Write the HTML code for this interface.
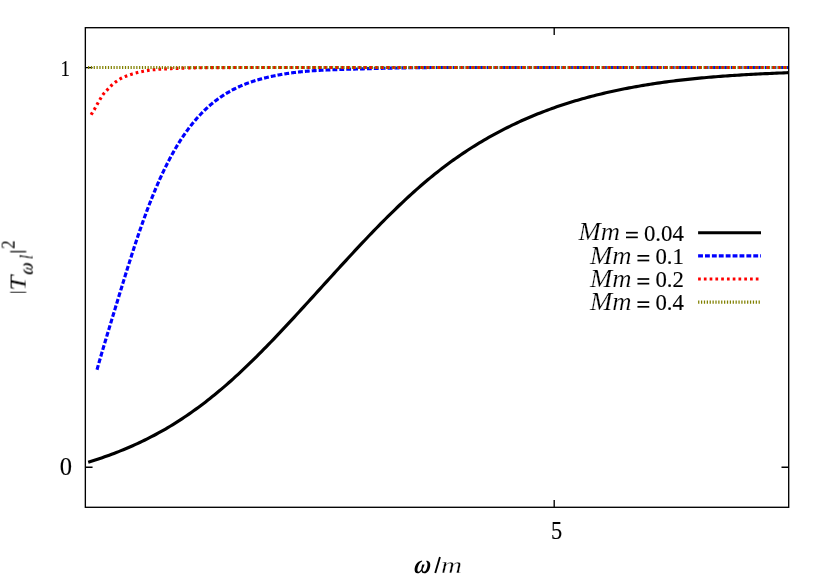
<!DOCTYPE html>
<html><head><meta charset="utf-8"><title>plot</title>
<style>html,body{margin:0;padding:0;background:#fff;}body{width:830px;height:581px;overflow:hidden;font-family:"Liberation Serif",serif;}svg{display:block;}</style>
</head><body>
<svg width="830" height="581" viewBox="0 0 830 581">
<rect x="0" y="0" width="830" height="581" fill="#fff"/>
<path d="M85.35,67.6 h7.2 M788.7,67.6 h-7.2 M85.35,467.2 h7.2 M788.7,467.2 h-7.2 M554.2,507.3 v-7.2 M554.2,27.7 v7.2" stroke="#000" stroke-width="1.35" fill="none"/>
<g fill="none" stroke-linejoin="round" stroke-width="3.15">
<path d="M88.20,462.31 L90.54,461.57 L92.88,460.82 L95.23,460.06 L97.57,459.28 L99.91,458.49 L102.25,457.68 L104.59,456.86 L106.94,456.02 L109.28,455.17 L111.62,454.30 L113.96,453.42 L116.31,452.51 L118.65,451.60 L120.99,450.66 L123.33,449.71 L125.67,448.73 L128.02,447.74 L130.36,446.73 L132.70,445.70 L135.04,444.65 L137.38,443.58 L139.73,442.49 L142.07,441.38 L144.41,440.25 L146.75,439.09 L149.10,437.91 L151.44,436.71 L153.78,435.49 L156.12,434.24 L158.46,432.97 L160.81,431.67 L163.15,430.35 L165.49,429.01 L167.83,427.64 L170.17,426.24 L172.52,424.82 L174.86,423.37 L177.20,421.89 L179.54,420.39 L181.89,418.86 L184.23,417.30 L186.57,415.72 L188.91,414.11 L191.25,412.48 L193.60,410.82 L195.94,409.13 L198.28,407.42 L200.62,405.68 L202.96,403.92 L205.31,402.13 L207.65,400.31 L209.99,398.47 L212.33,396.60 L214.68,394.70 L217.02,392.78 L219.36,390.83 L221.70,388.86 L224.04,386.86 L226.39,384.83 L228.73,382.78 L231.07,380.70 L233.41,378.59 L235.75,376.46 L238.10,374.31 L240.44,372.13 L242.78,369.93 L245.12,367.71 L247.47,365.46 L249.81,363.20 L252.15,360.91 L254.49,358.61 L256.83,356.28 L259.18,353.94 L261.52,351.58 L263.86,349.21 L266.20,346.81 L268.54,344.40 L270.89,341.98 L273.23,339.54 L275.57,337.09 L277.91,334.63 L280.26,332.15 L282.60,329.67 L284.94,327.17 L287.28,324.66 L289.62,322.14 L291.97,319.62 L294.31,317.08 L296.65,314.54 L298.99,311.99 L301.33,309.43 L303.68,306.87 L306.02,304.31 L308.36,301.74 L310.70,299.16 L313.05,296.59 L315.39,294.01 L317.73,291.43 L320.07,288.84 L322.41,286.26 L324.76,283.68 L327.10,281.10 L329.44,278.52 L331.78,275.94 L334.12,273.37 L336.47,270.79 L338.81,268.23 L341.15,265.67 L343.49,263.11 L345.84,260.56 L348.18,258.02 L350.52,255.48 L352.86,252.95 L355.20,250.43 L357.55,247.92 L359.89,245.42 L362.23,242.93 L364.57,240.46 L366.91,237.99 L369.26,235.53 L371.60,233.09 L373.94,230.66 L376.28,228.25 L378.63,225.85 L380.97,223.46 L383.31,221.10 L385.65,218.74 L387.99,216.41 L390.34,214.09 L392.68,211.79 L395.02,209.51 L397.36,207.25 L399.70,205.01 L402.05,202.78 L404.39,200.58 L406.73,198.40 L409.07,196.24 L411.42,194.11 L413.76,191.99 L416.10,189.90 L418.44,187.83 L420.78,185.79 L423.13,183.77 L425.47,181.78 L427.81,179.81 L430.15,177.87 L432.49,175.96 L434.84,174.07 L437.18,172.21 L439.52,170.37 L441.86,168.57 L444.21,166.78 L446.55,165.02 L448.89,163.29 L451.23,161.58 L453.57,159.90 L455.92,158.24 L458.26,156.60 L460.60,154.99 L462.94,153.40 L465.28,151.84 L467.63,150.30 L469.97,148.78 L472.31,147.29 L474.65,145.81 L477.00,144.37 L479.34,142.94 L481.68,141.53 L484.02,140.15 L486.36,138.79 L488.71,137.45 L491.05,136.13 L493.39,134.83 L495.73,133.55 L498.07,132.29 L500.42,131.06 L502.76,129.84 L505.10,128.64 L507.44,127.47 L509.79,126.31 L512.13,125.17 L514.47,124.05 L516.81,122.95 L519.15,121.86 L521.50,120.80 L523.84,119.75 L526.18,118.72 L528.52,117.71 L530.86,116.72 L533.21,115.74 L535.55,114.78 L537.89,113.83 L540.23,112.91 L542.58,112.00 L544.92,111.10 L547.26,110.22 L549.60,109.36 L551.94,108.51 L554.29,107.68 L556.63,106.86 L558.97,106.06 L561.31,105.27 L563.65,104.50 L566.00,103.74 L568.34,103.00 L570.68,102.26 L573.02,101.55 L575.37,100.84 L577.71,100.15 L580.05,99.47 L582.39,98.81 L584.73,98.16 L587.08,97.52 L589.42,96.89 L591.76,96.27 L594.10,95.67 L596.44,95.07 L598.79,94.49 L601.13,93.92 L603.47,93.36 L605.81,92.82 L608.16,92.28 L610.50,91.75 L612.84,91.23 L615.18,90.73 L617.52,90.23 L619.87,89.74 L622.21,89.26 L624.55,88.80 L626.89,88.34 L629.23,87.89 L631.58,87.45 L633.92,87.02 L636.26,86.59 L638.60,86.18 L640.95,85.78 L643.29,85.38 L645.63,84.99 L647.97,84.61 L650.31,84.24 L652.66,83.88 L655.00,83.52 L657.34,83.18 L659.68,82.84 L662.02,82.51 L664.37,82.18 L666.71,81.87 L669.05,81.56 L671.39,81.26 L673.74,80.96 L676.08,80.67 L678.42,80.39 L680.76,80.12 L683.10,79.85 L685.45,79.59 L687.79,79.33 L690.13,79.08 L692.47,78.84 L694.81,78.60 L697.16,78.37 L699.50,78.15 L701.84,77.93 L704.18,77.71 L706.53,77.51 L708.87,77.30 L711.21,77.10 L713.55,76.91 L715.89,76.72 L718.24,76.54 L720.58,76.36 L722.92,76.18 L725.26,76.01 L727.60,75.85 L729.95,75.69 L732.29,75.53 L734.63,75.38 L736.97,75.23 L739.32,75.08 L741.66,74.94 L744.00,74.80 L746.34,74.67 L748.68,74.53 L751.03,74.40 L753.37,74.28 L755.71,74.15 L758.05,74.03 L760.39,73.92 L762.74,73.80 L765.08,73.69 L767.42,73.58 L769.76,73.47 L772.11,73.36 L774.45,73.26 L776.79,73.16 L779.13,73.05 L781.47,72.95 L783.82,72.86 L786.16,72.76 L788.50,72.66" stroke="#000"/>
<path d="M97.00,369.74 L97.47,368.07 L97.93,366.42 L98.40,364.77 L98.87,363.12 L99.33,361.49 L99.80,359.86 L100.27,358.24 L100.74,356.62 L101.20,355.01 L101.67,353.41 L102.14,351.81 L102.60,350.22 L103.07,348.63 L103.54,347.05 L104.00,345.47 L104.47,343.90 L104.94,342.33 L105.40,340.76 L105.87,339.20 L106.34,337.64 L106.81,336.08 L107.27,334.53 L107.74,332.98 L108.21,331.43 L108.67,329.88 L109.14,328.34 L109.61,326.79 L110.07,325.25 L110.54,323.71 L111.01,322.17 L111.47,320.63 L111.94,319.09 L112.41,317.56 L112.88,316.02 L113.34,314.48 L113.81,312.94 L114.28,311.41 L114.74,309.87 L115.21,308.34 L115.68,306.80 L116.14,305.27 L116.61,303.73 L117.08,302.20 L117.55,300.67 L118.01,299.14 L118.48,297.61 L118.95,296.08 L119.41,294.55 L119.88,293.03 L120.35,291.50 L120.81,289.98 L121.28,288.46 L121.75,286.94 L122.21,285.42 L122.68,283.90 L123.15,282.39 L123.62,280.87 L124.08,279.36 L124.55,277.85 L125.02,276.34 L125.48,274.83 L125.95,273.33 L126.42,271.82 L126.88,270.32 L127.35,268.83 L127.82,267.33 L128.28,265.84 L128.75,264.35 L129.22,262.86 L129.69,261.38 L130.15,259.91 L130.62,258.43 L131.09,256.96 L131.55,255.50 L132.02,254.04 L132.49,252.59 L132.95,251.14 L133.42,249.69 L133.89,248.26 L134.35,246.82 L134.82,245.40 L135.29,243.98 L135.76,242.56 L136.22,241.16 L136.69,239.76 L137.16,238.36 L137.62,236.97 L138.09,235.59 L138.56,234.22 L139.02,232.85 L139.49,231.48 L139.96,230.13 L140.42,228.78 L140.89,227.44 L141.36,226.10 L141.83,224.78 L142.29,223.45 L142.76,222.14 L143.23,220.83 L143.69,219.53 L144.16,218.24 L144.63,216.96 L145.09,215.68 L145.56,214.41 L146.03,213.14 L146.49,211.89 L146.96,210.64 L147.43,209.40 L147.90,208.16 L148.36,206.94 L148.83,205.72 L149.30,204.50 L149.76,203.30 L150.23,202.10 L150.70,200.91 L151.16,199.73 L151.63,198.55 L152.10,197.38 L152.57,196.22 L153.03,195.07 L153.50,193.92 L153.97,192.79 L154.43,191.66 L154.90,190.53 L155.37,189.42 L155.83,188.31 L156.30,187.21 L156.77,186.12 L157.23,185.03 L157.70,183.95 L158.17,182.88 L158.64,181.82 L159.10,180.77 L159.57,179.72 L160.04,178.68 L160.50,177.65 L160.97,176.63 L161.44,175.61 L161.90,174.60 L162.37,173.60 L162.84,172.61 L163.30,171.62 L163.77,170.64 L164.24,169.67 L164.71,168.71 L165.17,167.75 L165.64,166.81 L166.11,165.86 L166.57,164.93 L167.04,164.00 L167.51,163.09 L167.97,162.17 L168.44,161.27 L168.91,160.37 L169.37,159.48 L169.84,158.60 L170.31,157.72 L170.78,156.85 L171.24,155.99 L171.71,155.14 L172.18,154.29 L172.64,153.45 L173.11,152.61 L173.58,151.78 L174.04,150.96 L174.51,150.15 L174.98,149.34 L175.44,148.54 L175.91,147.75 L176.38,146.96 L176.85,146.18 L177.31,145.40 L177.78,144.64 L178.25,143.87 L178.71,143.12 L179.18,142.37 L179.65,141.63 L180.11,140.89 L180.58,140.16 L181.05,139.44 L181.52,138.72 L181.98,138.01 L182.45,137.30 L182.92,136.61 L183.38,135.91 L183.85,135.23 L184.32,134.54 L184.78,133.87 L185.25,133.20 L185.72,132.54 L186.18,131.88 L186.65,131.23 L187.12,130.58 L187.59,129.94 L188.05,129.31 L188.52,128.68 L188.99,128.06 L189.45,127.44 L189.92,126.83 L190.39,126.22 L190.85,125.62 L191.32,125.03 L191.79,124.44 L192.25,123.85 L192.72,123.27 L193.19,122.70 L193.66,122.13 L194.12,121.57 L194.59,121.01 L195.06,120.46 L195.52,119.91 L195.99,119.37 L196.46,118.83 L196.92,118.30 L197.39,117.77 L197.86,117.25 L198.32,116.73 L198.79,116.22 L199.26,115.71 L199.73,115.21 L200.19,114.71 L200.66,114.22 L201.13,113.73 L201.59,113.25 L202.06,112.77 L202.53,112.29 L202.99,111.83 L203.46,111.36 L203.93,110.90 L204.39,110.44 L204.86,109.99 L205.33,109.54 L205.80,109.10 L206.26,108.66 L206.73,108.23 L207.20,107.80 L207.66,107.37 L208.13,106.95 L208.60,106.53 L209.06,106.12 L209.53,105.71 L210.00,105.31 L210.46,104.91 L210.93,104.51 L211.40,104.12 L211.87,103.73 L212.33,103.34 L212.80,102.96 L213.27,102.58 L213.73,102.21 L214.20,101.84 L214.67,101.47 L215.13,101.11 L215.60,100.75 L216.07,100.39 L216.54,100.04 L217.00,99.69 L217.47,99.35 L217.94,99.01 L218.40,98.67 L218.87,98.34 L219.34,98.01 L219.80,97.68 L220.27,97.35 L220.74,97.03 L221.20,96.71 L221.67,96.40 L222.14,96.09 L222.61,95.78 L223.07,95.47 L223.54,95.17 L224.01,94.87 L224.47,94.58 L224.94,94.28 L225.41,93.99 L225.87,93.70 L226.34,93.42 L226.81,93.14 L227.27,92.86 L227.74,92.58 L228.21,92.31 L228.68,92.04 L229.14,91.77 L229.61,91.51 L230.08,91.25 L230.54,90.99 L231.01,90.73 L231.48,90.48 L231.94,90.23 L232.41,89.98 L232.88,89.73 L233.34,89.49 L233.81,89.25 L234.28,89.01 L234.75,88.77 L235.21,88.54 L235.68,88.31 L236.15,88.08 L236.61,87.86 L237.08,87.63 L237.55,87.41 L238.01,87.19 L238.48,86.98 L238.95,86.76 L239.41,86.55 L239.88,86.34 L240.35,86.14 L240.82,85.93 L241.28,85.73 L241.75,85.53 L242.22,85.33 L242.68,85.14 L243.15,84.94 L243.62,84.75 L244.08,84.56 L244.55,84.38 L245.02,84.19 L245.48,84.01 L245.95,83.83 L246.42,83.65 L246.89,83.47 L247.35,83.30 L247.82,83.12 L248.29,82.95 L248.75,82.78 L249.22,82.62 L249.69,82.45 L250.15,82.29 L250.62,82.13 L251.09,81.97 L251.56,81.81 L252.02,81.65 L252.49,81.50 L252.96,81.34 L253.42,81.19 L253.89,81.04 L254.36,80.89 L254.82,80.75 L255.29,80.60 L255.76,80.46 L256.22,80.32 L256.69,80.18 L257.16,80.04 L257.63,79.90 L258.09,79.77 L258.56,79.63 L259.03,79.50 L259.49,79.37 L259.96,79.24 L260.43,79.11 L260.89,78.98 L261.36,78.86 L261.83,78.73 L262.29,78.61 L262.76,78.49 L263.23,78.36 L263.70,78.24 L264.16,78.13 L264.63,78.01 L265.10,77.89 L265.56,77.78 L266.03,77.66 L266.50,77.55 L266.96,77.44 L267.43,77.33 L267.90,77.22 L268.36,77.11 L268.83,77.00 L269.30,76.90 L269.77,76.79 L270.23,76.69 L270.70,76.58 L271.17,76.48 L271.63,76.38 L272.10,76.28 L272.57,76.18 L273.03,76.08 L273.50,75.98 L273.97,75.89 L274.43,75.79 L274.90,75.70 L275.37,75.60 L275.84,75.51 L276.30,75.42 L276.77,75.33 L277.24,75.24 L277.70,75.15 L278.17,75.06 L278.64,74.97 L279.10,74.88 L279.57,74.80 L280.04,74.71 L280.51,74.63 L280.97,74.55 L281.44,74.47 L281.91,74.38 L282.37,74.30 L282.84,74.23 L283.31,74.15 L283.77,74.07 L284.24,73.99 L284.71,73.92 L285.17,73.84 L285.64,73.77 L286.11,73.69 L286.58,73.62 L287.04,73.55 L287.51,73.48 L287.98,73.41 L288.44,73.34 L288.91,73.27 L289.38,73.20 L289.84,73.14 L290.31,73.07 L290.78,73.00 L291.24,72.94 L291.71,72.87 L292.18,72.81 L292.65,72.75 L293.11,72.68 L293.58,72.62 L294.05,72.56 L294.51,72.50 L294.98,72.44 L295.45,72.39 L295.91,72.33 L296.38,72.27 L296.85,72.22 L297.31,72.16 L297.78,72.11 L298.25,72.06 L298.72,72.01 L299.18,71.96 L299.65,71.91 L300.12,71.86 L300.58,71.81 L301.05,71.76 L301.52,71.71 L301.98,71.67 L302.45,71.62 L302.92,71.58 L303.38,71.53 L303.85,71.49 L304.32,71.45 L304.79,71.40 L305.25,71.36 L305.72,71.32 L306.19,71.28 L306.65,71.24 L307.12,71.20 L307.59,71.16 L308.05,71.12 L308.52,71.08 L308.99,71.04 L309.45,71.00 L309.92,70.96 L310.39,70.93 L310.86,70.89 L311.32,70.85 L311.79,70.82 L312.26,70.78 L312.72,70.75 L313.19,70.72 L313.66,70.68 L314.12,70.65 L314.59,70.62 L315.06,70.59 L315.53,70.56 L315.99,70.54 L316.46,70.51 L316.93,70.48 L317.39,70.46 L317.86,70.43 L318.33,70.41 L318.79,70.39 L319.26,70.36 L319.73,70.34 L320.19,70.32 L320.66,70.30 L321.13,70.28 L321.60,70.25 L322.06,70.23 L322.53,70.21 L323.00,70.19 L323.46,70.17 L323.93,70.15 L324.40,70.13 L324.86,70.11 L325.33,70.09 L325.80,70.06 L326.26,70.04 L326.73,70.02 L327.20,70.00 L327.67,69.98 L328.13,69.96 L328.60,69.94 L329.07,69.92 L329.53,69.90 L330.00,69.88 L331.00,69.84 L333.30,69.75 L335.60,69.66 L337.90,69.57 L340.20,69.49 L342.49,69.42 L344.79,69.34 L347.09,69.27 L349.39,69.20 L351.69,69.14 L353.99,69.07 L356.29,69.01 L358.59,68.94 L360.89,68.87 L363.19,68.81 L365.48,68.74 L367.78,68.67 L370.08,68.61 L372.38,68.55 L374.68,68.48 L376.98,68.42 L379.28,68.37 L381.58,68.31 L383.88,68.26 L386.18,68.21 L388.47,68.15 L390.77,68.10 L393.07,68.05 L395.37,68.00 L397.67,67.96 L399.97,67.91 L402.27,67.87 L404.57,67.83 L406.87,67.79 L409.17,67.76 L411.46,67.73 L413.76,67.70 L416.06,67.67 L418.36,67.65 L420.66,67.62 L422.96,67.60 L425.26,67.58 L427.56,67.56 L429.86,67.55 L432.16,67.54 L434.45,67.53 L436.75,67.52 L439.05,67.52 L440.00,67.52" stroke="#0000ff" stroke-dasharray="4.85 2.05"/>
<path d="M440.00,67.52 L441.35,67.51 L443.65,67.51 L445.95,67.50 L448.25,67.50 L450.55,67.50 L452.85,67.50 L455.15,67.50 L457.44,67.50 L459.74,67.50 L462.04,67.50 L464.34,67.50 L466.64,67.50 L468.94,67.50 L471.24,67.50 L473.54,67.50 L475.84,67.50 L478.14,67.50 L480.43,67.50 L482.73,67.50 L485.03,67.50 L487.33,67.50 L489.63,67.50 L491.93,67.50 L494.23,67.50 L496.53,67.50 L498.83,67.50 L501.13,67.50 L503.42,67.50 L505.72,67.50 L508.02,67.50 L510.32,67.50 L512.62,67.50 L514.92,67.50 L517.22,67.50 L519.52,67.50 L521.82,67.50 L524.12,67.50 L526.41,67.50 L528.71,67.50 L531.01,67.50 L533.31,67.50 L535.61,67.50 L537.91,67.50 L540.21,67.50 L542.51,67.50 L544.81,67.50 L547.11,67.50 L549.40,67.50 L551.70,67.50 L554.00,67.50 L556.30,67.50 L558.60,67.50 L560.90,67.50 L563.20,67.50 L565.50,67.50 L567.80,67.50 L570.10,67.50 L572.39,67.50 L574.69,67.50 L576.99,67.50 L579.29,67.50 L581.59,67.50 L583.89,67.50 L586.19,67.50 L588.49,67.50 L590.79,67.50 L593.09,67.50 L595.38,67.50 L597.68,67.50 L599.98,67.50 L602.28,67.50 L604.58,67.50 L606.88,67.50 L609.18,67.50 L611.48,67.50 L613.78,67.50 L616.08,67.50 L618.37,67.50 L620.67,67.50 L622.97,67.50 L625.27,67.50 L627.57,67.50 L629.87,67.50 L632.17,67.50 L634.47,67.50 L636.77,67.50 L639.07,67.50 L641.36,67.50 L643.66,67.50 L645.96,67.50 L648.26,67.50 L650.56,67.50 L652.86,67.50 L655.16,67.50 L657.46,67.50 L659.76,67.50 L662.06,67.50 L664.35,67.50 L666.65,67.50 L668.95,67.50 L671.25,67.50 L673.55,67.50 L675.85,67.50 L678.15,67.50 L680.45,67.50 L682.75,67.50 L685.05,67.50 L687.34,67.50 L689.64,67.50 L691.94,67.50 L694.24,67.50 L696.54,67.50 L698.84,67.50 L701.14,67.50 L703.44,67.50 L705.74,67.50 L708.04,67.50 L710.33,67.50 L712.63,67.50 L714.93,67.50 L717.23,67.50 L719.53,67.50 L721.83,67.50 L724.13,67.50 L726.43,67.50 L728.73,67.50 L731.03,67.50 L733.32,67.50 L735.62,67.50 L737.92,67.50 L740.22,67.50 L742.52,67.50 L744.82,67.50 L747.12,67.50 L749.42,67.50 L751.72,67.50 L754.02,67.50 L756.31,67.50 L758.61,67.50 L760.91,67.50 L763.21,67.50 L765.51,67.50 L767.81,67.50 L770.11,67.50 L772.41,67.50 L774.71,67.50 L777.01,67.50 L779.30,67.50 L781.60,67.50 L783.90,67.50 L786.20,67.50 L788.50,67.50" stroke="#0000ff" stroke-dasharray="4.77 2.0170" stroke-dashoffset="0.861"/>
<path d="M91.10,114.80 L92.26,112.83 L93.43,110.97 L94.59,109.07 L95.76,107.01 L96.92,104.84 L98.09,102.74 L99.25,100.70 L100.41,98.74 L101.58,96.83 L102.74,94.99 L103.91,93.42 L105.07,92.10 L106.24,90.90 L107.40,89.70 L108.56,88.44 L109.73,87.18 L110.89,85.98 L112.06,84.90 L113.22,83.89 L114.39,82.95 L115.55,82.06 L116.71,81.20 L117.88,80.38 L119.04,79.59 L120.21,78.88 L121.37,78.24 L122.54,77.67 L123.70,77.14 L124.86,76.64 L126.03,76.17 L127.19,75.72 L128.36,75.29 L129.52,74.88 L130.69,74.50 L131.85,74.13 L133.01,73.78 L134.18,73.45 L135.34,73.13 L136.51,72.83 L137.67,72.53 L138.84,72.25 L140.00,71.98 L141.16,71.72 L142.33,71.48 L143.49,71.24 L144.66,71.01 L145.82,70.79 L146.99,70.59 L148.15,70.41 L149.31,70.24 L150.48,70.09 L151.64,69.95 L152.81,69.81 L153.97,69.69 L155.14,69.58 L156.30,69.47 L157.46,69.37 L158.63,69.28 L159.79,69.19 L160.96,69.12 L162.12,69.06 L163.28,69.00 L164.45,68.94 L165.61,68.88 L166.78,68.82 L167.94,68.75 L169.11,68.69 L170.27,68.63 L171.43,68.58 L172.60,68.54 L173.76,68.50 L174.93,68.47 L176.09,68.43 L177.26,68.38 L178.42,68.32 L179.58,68.25 L180.75,68.18 L181.91,68.13 L183.08,68.09 L184.24,68.05 L185.41,68.02 L185.70,68.01" stroke="#ff0000" stroke-dasharray="2.7 3.07"/>
<path d="M185.70,68.01 L186.57,67.99 L187.73,67.96 L188.90,67.93 L190.06,67.91 L191.23,67.88 L192.39,67.86 L193.56,67.84 L194.72,67.82 L195.88,67.80 L197.05,67.79 L198.21,67.77 L199.38,67.76 L200.54,67.74 L201.71,67.73 L202.87,67.72 L204.03,67.71 L205.20,67.70 L206.36,67.69 L207.53,67.68 L208.69,67.67 L209.86,67.66 L211.02,67.65 L212.18,67.64 L213.35,67.63 L214.51,67.62 L215.68,67.61 L216.84,67.60 L218.01,67.60 L219.17,67.59 L220.33,67.58 L221.50,67.58 L222.66,67.57 L223.83,67.57 L224.99,67.56 L226.16,67.56 L227.32,67.56 L228.48,67.55 L229.65,67.55 L230.81,67.55 L231.98,67.55 L233.14,67.55 L234.31,67.54 L235.47,67.54 L236.63,67.54 L237.80,67.54 L238.96,67.54 L240.13,67.54 L241.29,67.54 L242.46,67.53 L243.62,67.53 L244.78,67.53 L245.95,67.53 L247.11,67.53 L248.28,67.53 L249.44,67.53 L250.61,67.52 L251.77,67.52 L252.93,67.52 L254.10,67.52 L255.26,67.52 L256.43,67.52 L257.59,67.52 L258.76,67.52 L259.92,67.52 L261.08,67.52 L262.25,67.51 L263.41,67.51 L264.58,67.51 L265.74,67.51 L266.91,67.51 L268.07,67.51 L269.23,67.51 L270.40,67.51 L271.56,67.51 L272.73,67.51 L273.89,67.51 L275.06,67.51 L276.22,67.51 L277.38,67.51 L278.55,67.50 L279.71,67.50 L280.88,67.50 L282.04,67.50 L283.21,67.50 L284.37,67.50 L285.53,67.50 L286.70,67.50 L287.86,67.50 L289.03,67.50 L290.19,67.50 L291.36,67.50 L292.52,67.50 L293.68,67.50 L294.85,67.50 L296.01,67.50 L297.18,67.50 L298.34,67.50 L299.51,67.50 L300.67,67.50 L301.83,67.50 L303.00,67.50 L304.16,67.50 L305.33,67.50 L306.49,67.50 L307.65,67.50 L308.82,67.50 L309.98,67.50 L311.15,67.50 L312.31,67.50 L313.48,67.50 L314.64,67.50 L315.80,67.50 L316.97,67.50 L318.13,67.50 L319.30,67.50 L320.46,67.50 L321.63,67.50 L322.79,67.50 L323.95,67.50 L325.12,67.50 L326.28,67.50 L327.45,67.50 L328.61,67.50 L329.78,67.50 L330.94,67.50 L332.10,67.50 L333.27,67.50 L334.43,67.50 L335.60,67.50 L336.76,67.50 L337.93,67.50 L339.09,67.50 L340.25,67.50 L341.42,67.50 L342.58,67.50 L343.75,67.50 L344.91,67.50 L346.08,67.50 L347.24,67.50 L348.40,67.50 L349.57,67.50 L350.73,67.50 L351.90,67.50 L353.06,67.50 L354.23,67.50 L355.39,67.50 L356.55,67.50 L357.72,67.50 L358.88,67.50 L360.05,67.50 L361.21,67.50 L362.38,67.50 L363.54,67.50 L364.70,67.50 L365.87,67.50 L367.03,67.50 L368.20,67.50 L369.36,67.50 L370.53,67.50 L371.69,67.50 L372.85,67.50 L374.02,67.50 L375.18,67.50 L376.35,67.50 L377.51,67.50 L378.68,67.50 L379.84,67.50 L381.00,67.50 L382.17,67.50 L383.33,67.50 L384.50,67.50 L385.66,67.50 L386.83,67.50 L387.99,67.50 L389.15,67.50 L390.32,67.50 L391.48,67.50 L392.65,67.50 L393.81,67.50 L394.98,67.50 L396.14,67.50 L397.30,67.50 L398.47,67.50 L399.63,67.50 L400.80,67.50 L401.96,67.50 L403.13,67.50 L404.29,67.50 L405.45,67.50 L406.62,67.50 L407.78,67.50 L408.95,67.50 L410.11,67.50 L411.28,67.50 L412.44,67.50 L413.60,67.50 L414.77,67.50 L415.93,67.50 L417.10,67.50 L418.26,67.50 L419.43,67.50 L420.59,67.50 L421.75,67.50 L422.92,67.50 L424.08,67.50 L425.25,67.50 L426.41,67.50 L427.58,67.50 L428.74,67.50 L429.90,67.50 L431.07,67.50 L432.23,67.50 L433.40,67.50 L434.56,67.50 L435.73,67.50 L436.89,67.50 L438.05,67.50 L439.22,67.50 L440.38,67.50 L441.55,67.50 L442.71,67.50 L443.87,67.50 L445.04,67.50 L446.20,67.50 L447.37,67.50 L448.53,67.50 L449.70,67.50 L450.86,67.50 L452.02,67.50 L453.19,67.50 L454.35,67.50 L455.52,67.50 L456.68,67.50 L457.85,67.50 L459.01,67.50 L460.17,67.50 L461.34,67.50 L462.50,67.50 L463.67,67.50 L464.83,67.50 L466.00,67.50 L467.16,67.50 L468.32,67.50 L469.49,67.50 L470.65,67.50 L471.82,67.50 L472.98,67.50 L474.15,67.50 L475.31,67.50 L476.47,67.50 L477.64,67.50 L478.80,67.50 L479.97,67.50 L481.13,67.50 L482.30,67.50 L483.46,67.50 L484.62,67.50 L485.79,67.50 L486.95,67.50 L488.12,67.50 L489.28,67.50 L490.45,67.50 L491.61,67.50 L492.77,67.50 L493.94,67.50 L495.10,67.50 L496.27,67.50 L497.43,67.50 L498.60,67.50 L499.76,67.50 L500.92,67.50 L502.09,67.50 L503.25,67.50 L504.42,67.50 L505.58,67.50 L506.75,67.50 L507.91,67.50 L509.07,67.50 L510.24,67.50 L511.40,67.50 L512.57,67.50 L513.73,67.50 L514.90,67.50 L516.06,67.50 L517.22,67.50 L518.39,67.50 L519.55,67.50 L520.72,67.50 L521.88,67.50 L523.05,67.50 L524.21,67.50 L525.37,67.50 L526.54,67.50 L527.70,67.50 L528.87,67.50 L530.03,67.50 L531.20,67.50 L532.36,67.50 L533.52,67.50 L534.69,67.50 L535.85,67.50 L537.02,67.50 L538.18,67.50 L539.35,67.50 L540.51,67.50 L541.67,67.50 L542.84,67.50 L544.00,67.50 L545.17,67.50 L546.33,67.50 L547.50,67.50 L548.66,67.50 L549.82,67.50 L550.99,67.50 L552.15,67.50 L553.32,67.50 L554.48,67.50 L555.65,67.50 L556.81,67.50 L557.97,67.50 L559.14,67.50 L560.30,67.50 L561.47,67.50 L562.63,67.50 L563.80,67.50 L564.96,67.50 L566.12,67.50 L567.29,67.50 L568.45,67.50 L569.62,67.50 L570.78,67.50 L571.95,67.50 L573.11,67.50 L574.27,67.50 L575.44,67.50 L576.60,67.50 L577.77,67.50 L578.93,67.50 L580.09,67.50 L581.26,67.50 L582.42,67.50 L583.59,67.50 L584.75,67.50 L585.92,67.50 L587.08,67.50 L588.24,67.50 L589.41,67.50 L590.57,67.50 L591.74,67.50 L592.90,67.50 L594.07,67.50 L595.23,67.50 L596.39,67.50 L597.56,67.50 L598.72,67.50 L599.89,67.50 L601.05,67.50 L602.22,67.50 L603.38,67.50 L604.54,67.50 L605.71,67.50 L606.87,67.50 L608.04,67.50 L609.20,67.50 L610.37,67.50 L611.53,67.50 L612.69,67.50 L613.86,67.50 L615.02,67.50 L616.19,67.50 L617.35,67.50 L618.52,67.50 L619.68,67.50 L620.84,67.50 L622.01,67.50 L623.17,67.50 L624.34,67.50 L625.50,67.50 L626.67,67.50 L627.83,67.50 L628.99,67.50 L630.16,67.50 L631.32,67.50 L632.49,67.50 L633.65,67.50 L634.82,67.50 L635.98,67.50 L637.14,67.50 L638.31,67.50 L639.47,67.50 L640.64,67.50 L641.80,67.50 L642.97,67.50 L644.13,67.50 L645.29,67.50 L646.46,67.50 L647.62,67.50 L648.79,67.50 L649.95,67.50 L651.12,67.50 L652.28,67.50 L653.44,67.50 L654.61,67.50 L655.77,67.50 L656.94,67.50 L658.10,67.50 L659.27,67.50 L660.43,67.50 L661.59,67.50 L662.76,67.50 L663.92,67.50 L665.09,67.50 L666.25,67.50 L667.42,67.50 L668.58,67.50 L669.74,67.50 L670.91,67.50 L672.07,67.50 L673.24,67.50 L674.40,67.50 L675.57,67.50 L676.73,67.50 L677.89,67.50 L679.06,67.50 L680.22,67.50 L681.39,67.50 L682.55,67.50 L683.72,67.50 L684.88,67.50 L686.04,67.50 L687.21,67.50 L688.37,67.50 L689.54,67.50 L690.70,67.50 L691.87,67.50 L693.03,67.50 L694.19,67.50 L695.36,67.50 L696.52,67.50 L697.69,67.50 L698.85,67.50 L700.02,67.50 L701.18,67.50 L702.34,67.50 L703.51,67.50 L704.67,67.50 L705.84,67.50 L707.00,67.50 L708.17,67.50 L709.33,67.50 L710.49,67.50 L711.66,67.50 L712.82,67.50 L713.99,67.50 L715.15,67.50 L716.32,67.50 L717.48,67.50 L718.64,67.50 L719.81,67.50 L720.97,67.50 L722.14,67.50 L723.30,67.50 L724.46,67.50 L725.63,67.50 L726.79,67.50 L727.96,67.50 L729.12,67.50 L730.29,67.50 L731.45,67.50 L732.61,67.50 L733.78,67.50 L734.94,67.50 L736.11,67.50 L737.27,67.50 L738.44,67.50 L739.60,67.50 L740.76,67.50 L741.93,67.50 L743.09,67.50 L744.26,67.50 L745.42,67.50 L746.59,67.50 L747.75,67.50 L748.91,67.50 L750.08,67.50 L751.24,67.50 L752.41,67.50 L753.57,67.50 L754.74,67.50 L755.90,67.50 L757.06,67.50 L758.23,67.50 L759.39,67.50 L760.56,67.50 L761.72,67.50 L762.89,67.50 L764.05,67.50 L765.21,67.50 L766.38,67.50 L767.54,67.50 L768.71,67.50 L769.87,67.50 L771.04,67.50 L772.20,67.50 L773.36,67.50 L774.53,67.50 L775.69,67.50 L776.86,67.50 L778.02,67.50 L779.19,67.50 L780.35,67.50 L781.51,67.50 L782.68,67.50 L783.84,67.50 L785.01,67.50 L786.17,67.50 L787.34,67.50 L788.50,67.50" stroke="#ff0000" stroke-dasharray="2.7 2.9738" stroke-dashoffset="3.399"/>
<path d="M88,67.5 L788.5,67.5" stroke="#808000" stroke-dasharray="1.23 1.6069"/>
</g>
<rect x="85.35" y="27.7" width="703.35" height="479.60" stroke="#000" stroke-width="1.35" fill="none"/>
<g fill="none" stroke-width="3.15">
<path d="M698.1,232.7 H761.0" stroke="#000"/>
<path d="M698.1,255.85 H761.0" stroke="#0000ff" stroke-dasharray="4.85 2.05"/>
<path d="M698.1,279.0 H761.0" stroke="#ff0000" stroke-dasharray="2.7 3.07"/>
<path d="M698.1,302.15 H761.0" stroke="#808000" stroke-dasharray="1.25 1.63"/>
</g>
<g font-family="'Liberation Serif', serif" fill="#000" style="filter:grayscale(1)">
<text transform="translate(578.59,240.45) scale(1.1629,1.0933)" font-size="23" style="font-style:italic" stroke="#fff" stroke-width="0.2">Mm</text>
<rect x="626.00" y="231.85" width="11.8" height="1.7"/><rect x="626.00" y="236.50" width="11.8" height="1.7"/>
<text transform="translate(643.93,240.80) scale(0.9900,1.0492)" font-size="23" style="" stroke="#000" stroke-width="0.14">0.04</text>
<text transform="translate(590.04,263.60) scale(1.1629,1.0933)" font-size="23" style="font-style:italic" stroke="#fff" stroke-width="0.2">Mm</text>
<rect x="637.45" y="255.00" width="11.8" height="1.7"/><rect x="637.45" y="259.65" width="11.8" height="1.7"/>
<text transform="translate(655.38,263.95) scale(0.9900,1.0492)" font-size="23" style="" stroke="#000" stroke-width="0.14">0.1</text>
<text transform="translate(590.04,286.75) scale(1.1629,1.0933)" font-size="23" style="font-style:italic" stroke="#fff" stroke-width="0.2">Mm</text>
<rect x="637.45" y="278.15" width="11.8" height="1.7"/><rect x="637.45" y="282.80" width="11.8" height="1.7"/>
<text transform="translate(655.38,287.10) scale(0.9900,1.0492)" font-size="23" style="" stroke="#000" stroke-width="0.14">0.2</text>
<text transform="translate(590.04,309.90) scale(1.1629,1.0933)" font-size="23" style="font-style:italic" stroke="#fff" stroke-width="0.2">Mm</text>
<rect x="637.45" y="301.30" width="11.8" height="1.7"/><rect x="637.45" y="305.95" width="11.8" height="1.7"/>
<text transform="translate(655.38,310.25) scale(0.9900,1.0492)" font-size="23" style="" stroke="#000" stroke-width="0.14">0.4</text>
<text transform="translate(60.55,75.60) scale(0.8246,1.0182)" font-size="23" style="" stroke="#000" stroke-width="0.14">1</text>
<text transform="translate(59.77,475.30) scale(1.0667,1.0623)" font-size="23" style="" stroke="#000" stroke-width="0.14">0</text>
<text transform="translate(551.06,538.50) scale(0.9730,1.0533)" font-size="23" style="" stroke="#000" stroke-width="0.14">5</text>
<text transform="translate(413.38,572.50) scale(0.9968,1.1721) skewX(-10)" font-size="23" style="font-style:italic;font-weight:bold">ω</text>
<path d="M435.25,573.0 L439.95,557.1" stroke="#000" stroke-width="1.85" fill="none"/>
<text transform="translate(440.99,572.70) scale(1.2678,1.0115)" font-size="23" style="font-style:italic" stroke="#fff" stroke-width="0.3">m</text>
<g transform="translate(25.6,293.5) rotate(-90)">
<text transform="translate(2.73,-0.20) scale(1.1802,1.0133)" font-size="23" style="font-style:italic" stroke="#fff" stroke-width="0.15">T</text>
<text transform="translate(18.30,7.20) scale(0.9109,1.1130) skewX(-10)" font-size="18.45" style="font-style:italic;font-weight:bold" stroke="#fff" stroke-width="0.2">ω</text>
<text transform="translate(34.07,7.20) scale(0.9333,1.0000)" font-size="18.45" style="font-style:italic" stroke="#fff" stroke-width="0.2">l</text>
<text transform="translate(44.50,-11.00) scale(0.9333,1.0000)" font-size="18.45" style="">2</text>
<rect x="0.2" y="-15.4" width="1.25" height="16.0"/>
<rect x="41.2" y="-15.4" width="1.25" height="16.0"/>
</g>
</g>
</svg>
</body></html>
